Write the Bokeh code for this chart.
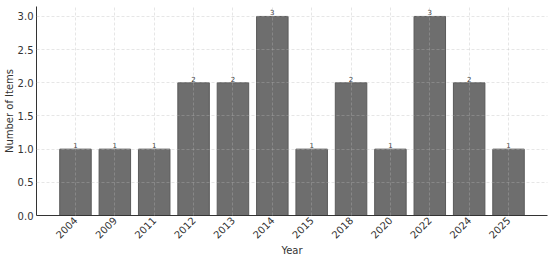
import math
from bokeh.plotting import figure
from bokeh.models import ColumnDataSource, FixedTicker, Range1d
from bokeh.core.properties import value
from bokeh.embed import file_html
from bokeh.resources import INLINE

years = ["2004", "2009", "2011", "2012", "2013", "2014", "2015", "2018", "2020", "2022", "2024", "2025"]
counts = [1, 1, 1, 2, 2, 3, 1, 2, 1, 3, 2, 1]
y_ticks = [0.0, 0.5, 1.0, 1.5, 2.0, 2.5, 3.0]

FONT = "DejaVu Sans"
xs = list(range(len(years)))
src = ColumnDataSource(dict(x=xs, top=counts, label=[str(c) for c in counts]))

p = figure(width=550, height=259, output_backend="svg", toolbar_location=None,
           x_range=Range1d(-0.99, 11.99), y_range=Range1d(0, 3.15),
           min_border_left=34, min_border_right=3, min_border_top=6, min_border_bottom=43)
p.outline_line_color = None
p.background_fill_color = "white"

p.vbar(x="x", top="top", width=0.8, bottom=0, source=src,
       fill_color="#6e6e6e", line_color="#5a5a5a", line_width=1)
p.text(x="x", y="top", text="label", source=src, text_align="center",
       text_baseline="bottom", text_font_size="7px", text_color="#333333",
       y_offset=-1, text_font=value(FONT))

for ax in (p.xaxis[0], p.yaxis[0]):
    ax.axis_line_color = "#333333"
    ax.axis_line_width = 1
    ax.major_tick_line_color = None
    ax.minor_tick_line_color = None
    ax.major_tick_out = 0
    ax.major_tick_in = 0
    ax.minor_tick_out = 0
    ax.minor_tick_in = 0
    ax.major_label_text_font = FONT
    ax.major_label_text_font_size = "10px"
    ax.major_label_text_color = "#333333"
    ax.axis_label_text_font = FONT
    ax.axis_label_text_font_size = "10px"
    ax.axis_label_text_font_style = "normal"
    ax.axis_label_text_color = "#333333"
    ax.major_label_standoff = 3
    ax.axis_label_standoff = 0

p.xaxis.ticker = FixedTicker(ticks=xs)
p.xaxis.major_label_overrides = {i: y for i, y in enumerate(years)}
p.xaxis.major_label_orientation = math.pi / 4
p.xaxis.axis_label = "Year"
p.yaxis.ticker = FixedTicker(ticks=y_ticks)
p.yaxis.major_label_overrides = {t: f"{t:.1f}" for t in y_ticks}
p.yaxis.axis_label = "Number of Items"

for g in (p.xgrid[0], p.ygrid[0]):
    g.grid_line_color = "#b8b8b8"
    g.grid_line_alpha = 0.35
    g.grid_line_dash = "3 2"
    g.grid_line_width = 1
    g.level = "overlay"

open("out.html", "w").write(file_html(p, INLINE))
